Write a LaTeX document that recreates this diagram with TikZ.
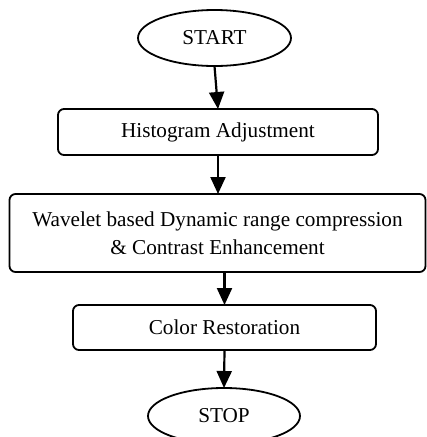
\documentclass[tikz,border=0pt]{standalone}
\usepackage{fontspec}
\setmainfont{Liberation Serif}
\usetikzlibrary{shapes.geometric,arrows.meta}
\begin{document}
\begin{tikzpicture}[x=1pt,y=-1pt,
  every node/.style={font=\fontsize{21.2}{28}\selectfont, inner sep=0pt, outer sep=0pt},
  term/.style={draw, ellipse, line width=1.8pt},
  proc/.style={draw, rectangle, rounded corners=6pt, line width=1.8pt, align=center},
  flow/.style={line width=2.2pt, -{Triangle[width=15pt,length=17pt]}}]
\useasboundingbox (0,0) rectangle (427,437);
\begin{scope}
\clip (0,0) rectangle (427,437);
\node[term, minimum width=153pt, minimum height=56pt] (start) at (214.5,38) {START};
\node[proc, minimum width=320pt, minimum height=46pt] (hist) at (218,132) {Histogram Adjustment};
\node[proc, minimum width=416pt, minimum height=78pt] (wave) at (217.5,233) {Wavelet based Dynamic range compression\\\& Contrast Enhancement};
\node[proc, minimum width=303pt, minimum height=45pt] (color) at (224.5,327.5) {Color Restoration};
\node[term, minimum width=152pt, minimum height=56pt] (stop) at (224,416) {STOP};
\draw[flow] (start.south) -- (hist.north);
\draw[flow] (hist.south) -- (hist.south |- wave.north);
\draw[flow] (color.north |- wave.south) -- (color.north);
\draw[flow] (color.south) -- (stop.north);
\end{scope}
\end{tikzpicture}
\end{document}
